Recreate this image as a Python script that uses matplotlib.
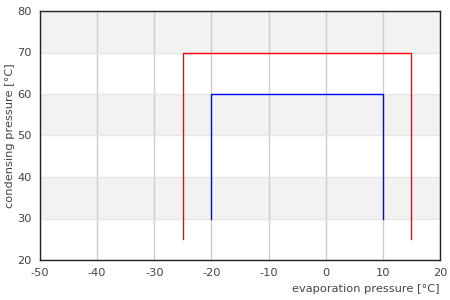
import matplotlib
matplotlib.use("Agg")
import matplotlib.pyplot as plt

plt.rcParams["axes.unicode_minus"] = False

# valores
red_x = [-25, -25, 15, 15]
red_y = [25, 70, 70, 25]
blue_x = [-20, -20, 10, 10]
blue_y = [30, 60, 60, 30]

x_ticks = [-50, -40, -30, -20, -10, 0, 10, 20]
y_ticks = [20, 30, 40, 50, 60, 70, 80]
bands = [(30, 40), (50, 60), (70, 80)]

fig = plt.figure(figsize=(4.5, 3), dpi=100)
ax = fig.add_axes([40 / 450, 40 / 300, 400 / 450, 249 / 300])

for lo, hi in bands:
    ax.axhspan(lo, hi, color="#f2f2f2", zorder=0, lw=0)

for x in x_ticks:
    ax.axvline(x, color="#cccccc", lw=1, zorder=1)
for y in y_ticks:
    ax.axhline(y, color="#e6e6e6", lw=1, zorder=1)

ax.plot(red_x, red_y, color="#ff0000", lw=1, zorder=3)
ax.plot(blue_x, blue_y, color="#0000ff", lw=1, zorder=3)

ax.set_xlim(-50, 20)
ax.set_ylim(20, 80)
ax.set_xticks(x_ticks)
ax.set_yticks(y_ticks)
ax.tick_params(length=0, labelsize=8.2, colors="#444444", pad=6)

for s in ax.spines.values():
    s.set_color("#222222")
    s.set_linewidth(1)

ax.set_xlabel("evaporation pressure [°C]", fontsize=8.2, color="#444444", loc="right", labelpad=4)
ax.set_ylabel("condensing pressure [°C]", fontsize=8.2, color="#444444")
ax.yaxis.set_label_coords(-25 / 400, 0.5)

fig.savefig("out.png", dpi=100)
